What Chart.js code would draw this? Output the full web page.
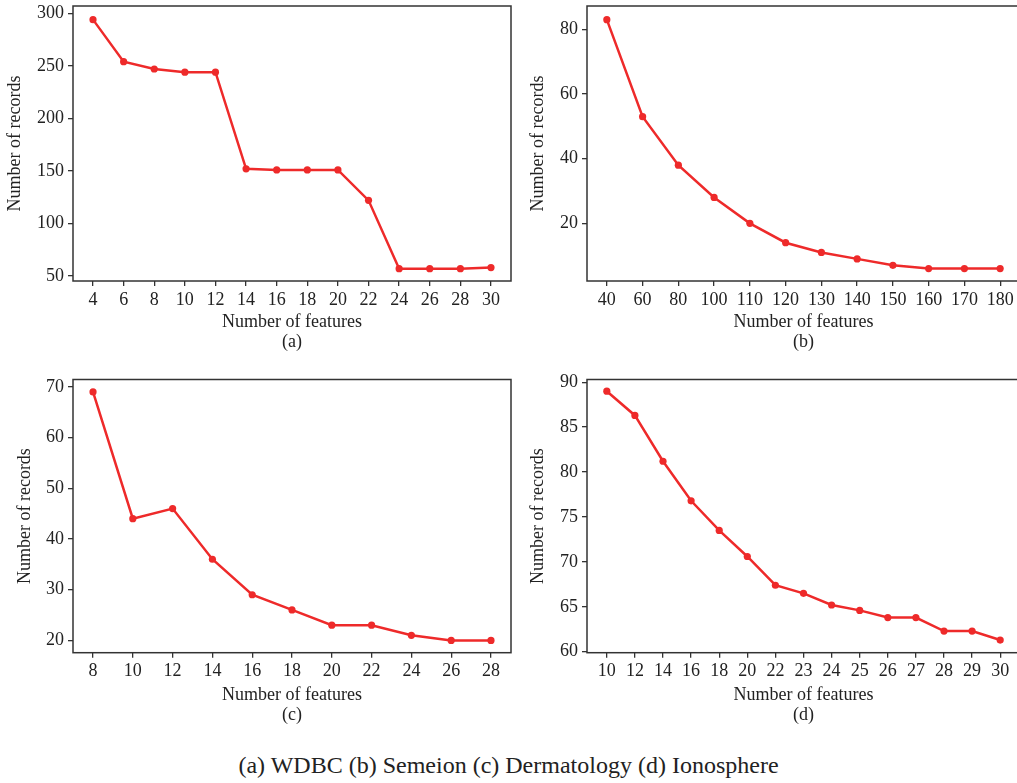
<!DOCTYPE html>
<html>
<head>
<meta charset="utf-8">
<script src="https://cdn.jsdelivr.net/npm/chart.js@4/dist/chart.umd.min.js"></script>
<style>
  html, body { margin: 0; padding: 0; background: #fff; overflow: hidden; }
  body { width: 1017px; height: 783px; position: relative; }
  canvas { position: absolute; }
  #caption {
    position: absolute; left: 0; width: 1017px; top: 752px;
    text-align: center; font: 24px "Liberation Serif", "Times New Roman", serif; color: #222;
  }
</style>
</head>
<body>
<canvas id="chart-a" width="515" height="355" style="left:0;top:0"></canvas>
<canvas id="chart-b" width="509" height="355" style="left:515px;top:0"></canvas>
<canvas id="chart-c" width="515" height="358" style="left:0;top:370px"></canvas>
<canvas id="chart-d" width="509" height="358" style="left:515px;top:370px"></canvas>
<div id="caption">(a) WDBC (b) Semeion (c) Dermatology (d) Ionosphere</div>
<script>
// (a) WDBC
const featuresA = ['4', '6', '8', '10', '12', '14', '16', '18', '20', '22', '24', '26', '28', '30'];
const recordsA = [294, 254, 247, 244, 244, 152, 151, 151, 151, 122, 57, 57, 57, 58];
const yTicksA = [50, 100, 150, 200, 250, 300];

// (b) Semeion
const featuresB = ['40', '60', '80', '100', '110', '120', '130', '140', '150', '160', '170', '180'];
const recordsB = [83, 53, 38, 28, 20, 14, 11, 9, 7, 6, 6, 6];
const yTicksB = [20, 40, 60, 80];

// (c) Dermatology
const featuresC = ['8', '10', '12', '14', '16', '18', '20', '22', '24', '26', '28'];
const recordsC = [69, 44, 46, 36, 29, 26, 23, 23, 21, 20, 20];
const yTicksC = [20, 30, 40, 50, 60, 70];

// (d) Ionosphere
const featuresD = ['10', '12', '14', '16', '18', '20', '22', '23', '24', '25', '26', '27', '28', '29', '30'];
const recordsD = [89.0, 86.3, 81.2, 76.8, 73.5, 70.6, 67.4, 66.5, 65.2, 64.6, 63.8, 63.8, 62.3, 62.3, 61.3];
const yTicksD = [60, 65, 70, 75, 80, 85, 90];

const RED = '#ee2a2a';
const INK = '#333';
const FONT = { family: '"Liberation Serif", "Times New Roman", serif', size: 18, lineHeight: 1.09 };

// black box round the plot area
const framePlugin = {
  id: 'frame',
  beforeDatasetsDraw(chart) {
    const { ctx, chartArea: a } = chart;
    ctx.save();
    ctx.strokeStyle = INK;
    ctx.lineWidth = 1.5;
    ctx.strokeRect(a.left, a.top, a.right - a.left, a.bottom - a.top);
    ctx.restore();
  },
};

function noPad(s) {
  s.paddingTop = 0; s.paddingBottom = 0; s.paddingLeft = 0; s.paddingRight = 0;
}

function makeChart(id, labels, values, yTicks, g) {
  return new Chart(document.getElementById(id), {
    type: 'line',
    data: {
      datasets: [{
        data: values.map((v, i) => ({ x: i, y: v })),
        borderColor: RED,
        backgroundColor: RED,
        borderWidth: 2.5,
        pointRadius: 3.6,
        pointBorderWidth: 0,
        tension: 0,
      }],
    },
    options: {
      responsive: false,
      animation: false,
      layout: { padding: { top: g.padTop, right: g.padRight, left: 0, bottom: 0 } },
      plugins: { legend: { display: false }, tooltip: { enabled: false } },
      scales: {
        x: {
          type: 'linear',
          min: -g.xPad,
          max: labels.length - 1 + g.xPad,
          afterBuildTicks: s => { s.ticks = labels.map((_, i) => ({ value: i })); },
          afterFit: s => { s.height = g.xHeight; noPad(s); },
          grid: { drawOnChartArea: false, drawTicks: true, tickLength: 5, color: INK, lineWidth: 1.3 },
          border: { display: false },
          ticks: { autoSkip: false, maxRotation: 0, padding: 4, color: '#222', font: FONT, callback: v => labels[v] },
          title: { display: true, text: ['Number of features', g.tag], color: '#222', font: FONT, padding: { top: 0, bottom: 3 } },
        },
        y: {
          min: g.yMin,
          max: g.yMax,
          afterBuildTicks: s => { s.ticks = yTicks.map(v => ({ value: v })); },
          afterFit: s => { s.width = g.yWidth; noPad(s); },
          grid: { drawOnChartArea: false, drawTicks: true, tickLength: 5, color: INK, lineWidth: 1.3 },
          border: { display: false },
          ticks: { padding: 4, color: '#222', font: FONT },
          title: { display: true, text: 'Number of records', color: '#222', font: FONT, padding: { top: g.yTitlePad, bottom: 0 } },
        },
      },
    },
    plugins: [framePlugin],
  });
}

makeChart('chart-a', featuresA, recordsA, yTicksA,
  { padTop: 6, padRight: 4, xHeight: 74, yWidth: 73, xPad: 0.654, yMin: 45.24, yMax: 306.98, yTitlePad: 5, tag: '(a)' });
makeChart('chart-b', featuresB, recordsB, yTicksB,
  { padTop: 6, padRight: 0, xHeight: 74, yWidth: 72, xPad: 0.555, yMin: 2.16, yMax: 87.22, yTitlePad: 13, tag: '(b)' });
makeChart('chart-c', featuresC, recordsC, yTicksC,
  { padTop: 9.5, padRight: 4, xHeight: 75.3, yWidth: 73, xPad: 0.503, yMin: 17.57, yMax: 71.45, yTitlePad: 15, tag: '(c)' });
makeChart('chart-d', featuresD, recordsD, yTicksD,
  { padTop: 9.5, padRight: 0, xHeight: 75.3, yWidth: 72, xPad: 0.705, yMin: 59.89, yMax: 90.3, yTitlePad: 13, tag: '(d)' });
</script>
</body>
</html>
